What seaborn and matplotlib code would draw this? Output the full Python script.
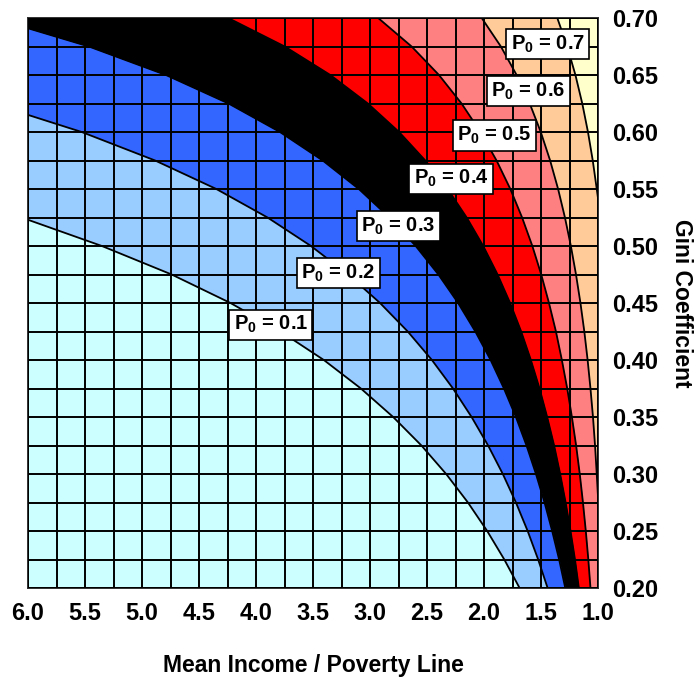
import numpy as np
import pandas as pd
import matplotlib
matplotlib.use("Agg")
import matplotlib.pyplot as plt
import seaborn as sns

# Gini coefficient rows of the surface grid (step 0.025)
gini = [0.200, 0.225, 0.250, 0.275, 0.300, 0.325, 0.350, 0.375, 0.400, 0.425,
        0.450, 0.475, 0.500, 0.525, 0.550, 0.575, 0.600, 0.625, 0.650, 0.675, 0.700]

# mean income / poverty line where each headcount contour crosses a row
p01_x = [1.688, 1.822, 1.972, 2.141, 2.332, 2.549, 2.797, 3.080, 3.405, 3.784,
         4.224, 4.740, 5.352, 6.000]
p01_y = gini[:13] + [0.523]

p02_x = [1.442, 1.525, 1.617, 1.720, 1.835, 1.964, 2.109, 2.272, 2.457, 2.669,
         2.912, 3.192, 3.518, 3.899, 4.348, 4.885, 5.529, 6.000]
p02_y = gini[:17] + [0.615]

p03_x = [1.287, 1.341, 1.402, 1.469, 1.544, 1.627, 1.720, 1.825, 1.942, 2.076,
         2.227, 2.400, 2.599, 2.830, 3.098, 3.415, 3.790, 4.241, 4.790, 5.466, 6.000]
p03_y = gini[:20] + [0.691]

p04_x = [1.168, 1.202, 1.241, 1.284, 1.332, 1.385, 1.446, 1.513, 1.589, 1.674,
         1.771, 1.881, 2.007, 2.152, 2.319, 2.515, 2.745, 3.019, 3.348, 3.748, 4.244]
p04_y = gini

p05_x = [1.066, 1.085, 1.107, 1.132, 1.160, 1.192, 1.229, 1.270, 1.317, 1.369,
         1.430, 1.498, 1.576, 1.666, 1.769, 1.890, 2.031, 2.197, 2.395, 2.635, 2.928]
p05_y = gini

p06_x = [1.000, 1.000, 1.011, 1.026, 1.044, 1.066, 1.091, 1.120, 1.154, 1.193,
         1.238, 1.290, 1.350, 1.420, 1.502, 1.599, 1.714, 1.852, 2.020]
p06_y = [0.200, 0.280] + gini[4:]

p07_x = [1.000, 1.000, 1.011, 1.046, 1.088, 1.138, 1.198, 1.270, 1.357]
p07_y = [0.200, 0.542] + gini[14:]

levels = ["0.1", "0.2", "0.3", "0.4", "0.5", "0.6", "0.7"]
curves = [(p01_x, p01_y), (p02_x, p02_y), (p03_x, p03_y), (p04_x, p04_y),
          (p05_x, p05_y), (p06_x, p06_y), (p07_x, p07_y)]

# band colours: below 0.1 ... above 0.7
band_colors = ["#CCFFFF", "#99CCFF", "#3366FF", "#000000",
               "#FF0000", "#FF8080", "#FFCC99", "#FFFFCC"]

# label positions (x, y) for each contour
label_x = [3.87, 3.28, 2.75, 2.29, 1.91, 1.61, 1.44]
label_y = [0.431, 0.476, 0.5175, 0.559, 0.597, 0.636, 0.677]

sns.set_style("white")
plt.rcParams["font.family"] = ["Liberation Sans", "DejaVu Sans"]
plt.rcParams["mathtext.fontset"] = "custom"
plt.rcParams["mathtext.rm"] = "Liberation Sans"
plt.rcParams["mathtext.bf"] = "Liberation Sans:bold"
plt.rcParams["text.color"] = "black"
plt.rcParams["axes.labelcolor"] = "black"
plt.rcParams["xtick.color"] = "black"
plt.rcParams["ytick.color"] = "black"

fig = plt.figure(figsize=(6.96, 6.81), dpi=100)
ax = fig.add_axes([28 / 696, 1 - 588 / 681, 570 / 696, 570 / 681])
ax.set_facecolor(band_colors[-1])

x_left = 6.0
# paint "P0 below level" regions from the top level down
for i in range(len(curves) - 1, -1, -1):
    cx, cy = curves[i]
    ax.fill_betweenx(cy, cx, x_left, color=band_colors[i], linewidth=0, zorder=1)

for cx, cy in curves:
    df = pd.DataFrame({"x": cx, "y": cy})
    sns.lineplot(data=df, x="x", y="y", sort=False, estimator=None,
                 color="black", linewidth=1.3, ax=ax, zorder=2)

ax.set_xlim(6.0, 1.0)
ax.set_ylim(0.2, 0.7)

ax.set_xticks(np.arange(1.0, 6.01, 0.5))
ax.set_xticklabels([f"{v:.1f}" for v in np.arange(1.0, 6.01, 0.5)])
ax.set_xticks(np.arange(1.0, 6.01, 0.25), minor=True)
ax.set_yticks(np.arange(0.2, 0.701, 0.05))
ax.set_yticklabels([f"{v:.2f}" for v in np.arange(0.2, 0.701, 0.05)])
ax.set_yticks(np.arange(0.2, 0.701, 0.025), minor=True)

ax.set_axisbelow(False)
ax.grid(which="both", color="black", linewidth=1.4)
ax.yaxis.tick_right()
ax.yaxis.set_label_position("right")
ax.tick_params(which="both", length=0)
ax.tick_params(axis="x", pad=10, labelsize=17)
ax.tick_params(axis="y", pad=10, labelsize=17)
for lab in ax.get_xticklabels() + ax.get_yticklabels():
    lab.set_fontweight("bold")

for sp in ax.spines.values():
    sp.set_color("#303030")
    sp.set_linewidth(1.4)

ax.set_xlabel("Mean Income / Poverty Line", fontsize=16.5, fontweight="bold", labelpad=21)
ax.set_ylabel("Gini Coefficient", fontsize=16.5, fontweight="bold", rotation=270, labelpad=25)

for lv, lx, ly in zip(levels, label_x, label_y):
    ax.text(lx, ly, r"$\mathbf{P_0}$ = " + lv, ha="center", va="center",
            fontsize=14.5, fontweight="bold", zorder=5,
            bbox=dict(boxstyle="square,pad=0.22", fc="white", ec="black", lw=1.2))

fig.savefig("out.png", dpi=100)
